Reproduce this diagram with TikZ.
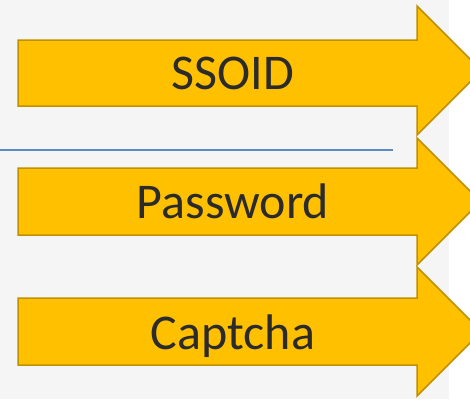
\documentclass[tikz,border=0pt]{standalone}
\usepackage{fontspec}
\setmainfont{Carlito}
\definecolor{panelgray}{HTML}{F5F5F5}
\definecolor{arrowfill}{HTML}{FFC000}
\definecolor{arrowedge}{HTML}{BF9000}
\definecolor{rulecol}{HTML}{5B8BC0}
\definecolor{labeltext}{HTML}{2B2B2B}
\tikzset{
  blockarrow/.style={fill=arrowfill, draw=arrowedge, line width=1.5pt, line join=miter},
  arrowlabel/.style={anchor=base, text=labeltext, font=\fontsize{50}{60}\selectfont, inner sep=0pt},
}
\begin{document}
\begin{tikzpicture}[x=1pt, y=-1pt]
  \useasboundingbox (0,0) rectangle (470,399);
  \clip (0,0) rectangle (470,399);
  % panel background
  \fill[white] (0,0) rectangle (470,399);
  \fill[panelgray] (0,0) rectangle (449,399);
  % separator rule
  \draw[rulecol, line width=1.5pt] (0,150) -- (393,150);
  % block arrows: body top, body bottom, head top, head bottom
  \foreach \bt/\bb/\ht/\hb in {40/106/6/135, 168/235/138/265, 298/365/267/396}{
    \draw[blockarrow] (18,\bt) -- (417,\bt) -- (417,\ht)
      -- ({417+(\hb-\ht)/2},{(\ht+\hb)/2}) -- (417,\hb) -- (417,\bb) -- (18,\bb) -- cycle;
  }
  % labels
  \node[arrowlabel] (ssoid) at (233,89) {SSOID};
  \node[arrowlabel] (password) at (233,218) {Password};
  \node[arrowlabel] (captcha) at (233,349) {Captcha};
\end{tikzpicture}
\end{document}
